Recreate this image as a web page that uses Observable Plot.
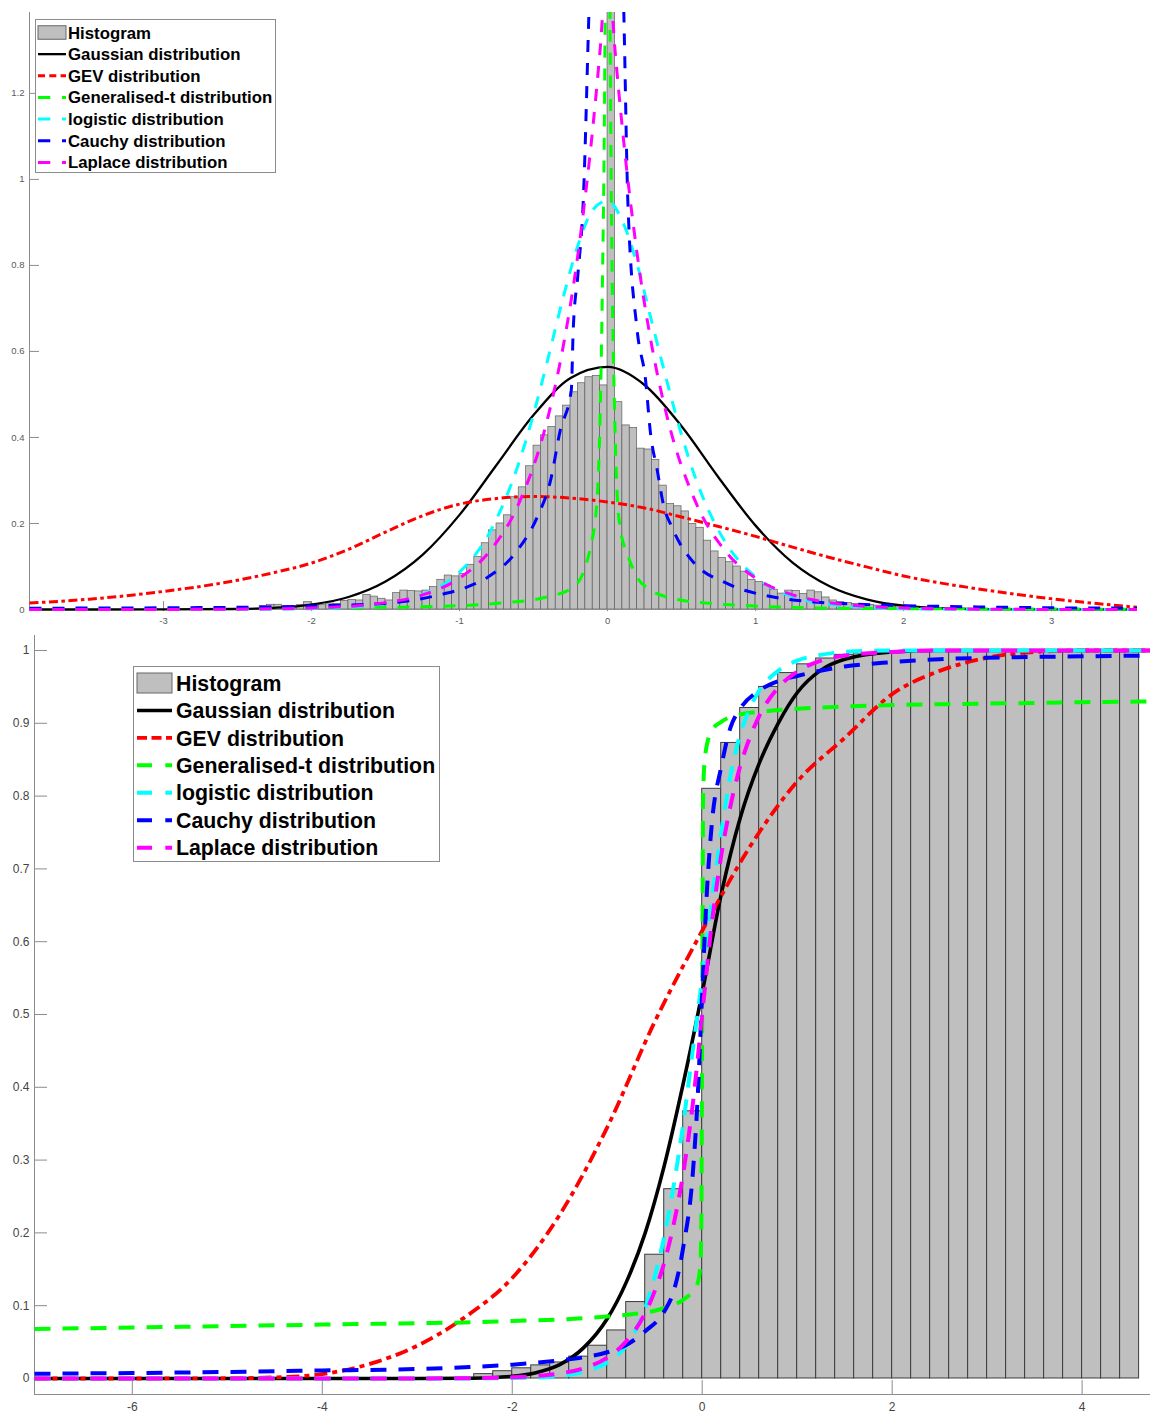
<!DOCTYPE html>
<html>
<head>
<meta charset="utf-8">
<script src="https://cdn.jsdelivr.net/npm/d3@7"></script>
<script src="https://cdn.jsdelivr.net/npm/@observablehq/plot@0.6"></script>
<style>
  html, body { margin: 0; padding: 0; background: #ffffff; }
  #wrap { position: relative; width: 1150px; height: 1418px; overflow: hidden; background: #ffffff; }
  #wrap svg { position: absolute; }
</style>
</head>
<body>
<div id="wrap"></div>
<script>
// ---------- legend ----------
const legendLabels = ["Histogram", "Gaussian distribution", "GEV distribution",
  "Generalised-t distribution", "logistic distribution", "Cauchy distribution", "Laplace distribution"];
const seriesKeys = ["gauss", "gev", "gent", "logistic", "cauchy", "laplace"];

// ---------- top panel: probability density ----------
const topXDomain = [-3.905, 3.58];
const topYDomain = [-0.005, 1.388];
const topXTicks = [-3, -2, -1, 0, 1, 2, 3];
const topYTicks = [0, 0.2, 0.4, 0.6, 0.8, 1, 1.2];

// density histogram, bins of 0.05 starting at -2.35
const pdfFirstEdge = -2.35;
const pdfBinWidth = 0.05;
const pdfHeights = [
  0.008, 0.011, 0.011, 0.008, 0.006, 0.010, 0.017, 0.012, 0.010, 0.014,
  0.013, 0.020, 0.022, 0.021, 0.034, 0.030, 0.025, 0.021, 0.038, 0.044,
  0.043, 0.042, 0.044, 0.052, 0.069, 0.079, 0.077, 0.083, 0.104, 0.122,
  0.154, 0.184, 0.200, 0.219, 0.261, 0.284, 0.333, 0.381, 0.405, 0.424,
  0.449, 0.474, 0.505, 0.526, 0.540, 0.543, 0.521, 7.400, 0.482, 0.428,
  0.422, 0.374, 0.372, 0.348, 0.288, 0.245, 0.240, 0.228, 0.199, 0.190,
  0.160, 0.135, 0.120, 0.110, 0.100, 0.088, 0.069, 0.064, 0.056, 0.046,
  0.037, 0.044, 0.043, 0.036, 0.044, 0.040, 0.028, 0.021, 0.017, 0.015,
  0.013, 0.012, 0.011, 0.009, 0.008, 0.006, 0.005
];

const gaussPdfX = [-3.905, -3.5, -3, -2.5, -2.25, -2, -1.75, -1.5, -1.25, -1, -0.75, -0.5, -0.25, 0, 0.25, 0.5, 0.75, 1, 1.25, 1.5, 1.75, 2, 2.5, 3, 3.58];
const gaussPdfY = [0, 0, 0.0001, 0.0012, 0.004, 0.0115, 0.029, 0.065, 0.127, 0.220, 0.336, 0.452, 0.538, 0.564, 0.522, 0.426, 0.307, 0.195, 0.109, 0.054, 0.0235, 0.009, 0.0009, 0.0001, 0];

const gevPdfX = gaussPdfX;
const gevPdfY = [0.015, 0.024, 0.042, 0.068, 0.086, 0.108, 0.140, 0.180, 0.218, 0.245, 0.258, 0.263, 0.259, 0.250, 0.236, 0.215, 0.193, 0.170, 0.145, 0.121, 0.099, 0.078, 0.048, 0.025, 0.005];

const gentPdfX = [-3.905, -3, -2, -1.5, -1.17, -0.72, -0.41, -0.23, -0.115, -0.07, -0.047, -0.035, -0.02, -0.01, 0, 0.01, 0.02, 0.032, 0.045, 0.066, 0.088, 0.133, 0.2, 0.29, 0.4, 0.51, 0.7, 1, 1.5, 2, 3, 3.58];
const gentPdfY = [0.0008, 0.0012, 0.003, 0.005, 0.007, 0.015, 0.029, 0.052, 0.145, 0.26, 0.5, 0.75, 1.2, 1.8, 3.0, 1.8, 1.2, 0.75, 0.5, 0.26, 0.184, 0.13, 0.075, 0.045, 0.029, 0.021, 0.014, 0.008, 0.003, 0.002, 0.001, 0.0008];

const logisticPdfX = [-3.905, -3.5, -3, -2.5, -2, -1.75, -1.5, -1.25, -1, -0.8, -0.6, -0.5, -0.4, -0.3, -0.2, -0.1, 0, 0.1, 0.2, 0.3, 0.4, 0.5, 0.6, 0.8, 1, 1.25, 1.5, 1.75, 2, 2.5, 3, 3.58];
const logisticPdfY = [0, 0, 0.0001, 0.0003, 0.002, 0.005, 0.014, 0.035, 0.087, 0.177, 0.340, 0.454, 0.587, 0.725, 0.847, 0.929, 0.950, 0.903, 0.802, 0.667, 0.532, 0.406, 0.300, 0.154, 0.076, 0.030, 0.012, 0.0045, 0.0017, 0.0002, 0, 0];

const cauchyPdfX = [-3.905, -3, -2.3, -1.8, -1.51, -1.33, -1.11, -0.95, -0.81, -0.61, -0.475, -0.385, -0.32, -0.245, -0.232, -0.2, -0.164, -0.126, -0.08, -0.01, 0.06, 0.11, 0.137, 0.2, 0.257, 0.29, 0.336, 0.38, 0.43, 0.49, 0.58, 0.81, 1.12, 1.42, 1.64, 2, 2.5, 3, 3.58];
const cauchyPdfY = [0.003, 0.004, 0.006, 0.010, 0.014, 0.021, 0.036, 0.052, 0.075, 0.137, 0.215, 0.30, 0.416, 0.51, 0.65, 0.78, 0.95, 1.385, 1.9, 2.6, 1.9, 1.385, 0.95, 0.649, 0.533, 0.41, 0.323, 0.24, 0.195, 0.153, 0.11, 0.06, 0.029, 0.017, 0.013, 0.009, 0.006, 0.004, 0.003];

const laplacePdfX = [-3.905, -3, -2.5, -2, -1.5, -1.25, -1, -0.8, -0.6, -0.4, -0.3, -0.2, -0.1, -0.05, 0, 0.05, 0.1, 0.2, 0.3, 0.4, 0.6, 0.8, 1, 1.25, 1.5, 2, 2.5, 3, 3.58];
const laplacePdfY = [0, 0.0002, 0.0008, 0.0035, 0.016, 0.034, 0.073, 0.134, 0.246, 0.451, 0.611, 0.826, 1.119, 1.302, 1.515, 1.302, 1.119, 0.826, 0.611, 0.451, 0.246, 0.134, 0.073, 0.034, 0.016, 0.0035, 0.0008, 0.0002, 0];

// ---------- bottom panel: cumulative distribution ----------
const bottomXDomain = [-7.03, 4.72];
const bottomYDomain = [-0.022, 1.0206];
const bottomXTicks = [-6, -4, -2, 0, 2, 4];
const bottomYTicks = [0, 0.1, 0.2, 0.3, 0.4, 0.5, 0.6, 0.7, 0.8, 0.9, 1];

// cumulative histogram, bins of 0.2 starting at -2.4
const cdfFirstEdge = -2.4;
const cdfBinWidth = 0.2;
const cdfHeights = [
  0.006, 0.010, 0.014, 0.018, 0.022, 0.030, 0.045, 0.066, 0.105, 0.170,
  0.260, 0.367, 0.810, 0.873, 0.921, 0.950, 0.969, 0.981, 0.989, 0.994,
  0.996, 0.998, 0.999, 0.9995, 1, 1, 1, 1, 1, 1, 1, 1, 1, 1, 1
];

const gaussCdfX = [-7.03, -3, -2.5, -2.25, -2, -1.75, -1.5, -1.25, -1, -0.8, -0.6, -0.4, -0.2, 0, 0.2, 0.4, 0.6, 0.8, 1, 1.25, 1.5, 2, 2.5, 4.72];
const gaussCdfY = [0, 0, 0.0003, 0.001, 0.003, 0.008, 0.019, 0.042, 0.082, 0.132, 0.200, 0.292, 0.405, 0.530, 0.665, 0.770, 0.845, 0.900, 0.942, 0.973, 0.988, 0.998, 1, 1];

const gevCdfX = [-7.03, -6, -5, -4.5, -4, -3.5, -3, -2.5, -2, -1.5, -1, -0.5, 0, 0.5, 1, 1.5, 2, 2.5, 3, 3.5, 4, 4.72];
const gevCdfY = [0, 0, 0.0003, 0.0015, 0.006, 0.02, 0.045, 0.084, 0.138, 0.225, 0.345, 0.49, 0.615, 0.73, 0.82, 0.88, 0.94, 0.972, 0.99, 0.998, 1, 1];

const gentCdfX = [-7.03, -6, -5, -4, -3, -2.5, -2, -1.5, -1, -0.7, -0.5, -0.35, -0.2, -0.1, -0.05, -0.02, -0.01, 0, 0.01, 0.03, 0.1, 0.2, 0.4, 0.7, 1, 1.5, 2, 3, 4, 4.72];
const gentCdfY = [0.068, 0.070, 0.072, 0.074, 0.076, 0.077, 0.079, 0.081, 0.085, 0.089, 0.093, 0.099, 0.108, 0.12, 0.13, 0.155, 0.2, 0.5, 0.8, 0.855, 0.89, 0.902, 0.912, 0.917, 0.920, 0.923, 0.925, 0.927, 0.929, 0.930];

const logisticCdfX = [-7.03, -3, -2.5, -2, -1.75, -1.5, -1.25, -1, -0.8, -0.6, -0.5, -0.4, -0.3, -0.2, -0.1, 0, 0.1, 0.2, 0.3, 0.4, 0.5, 0.6, 0.8, 1, 1.25, 1.5, 2, 4.72];
const logisticCdfY = [0, 0, 0.0001, 0.0005, 0.0013, 0.0035, 0.009, 0.022, 0.045, 0.097, 0.14, 0.195, 0.265, 0.35, 0.45, 0.55, 0.655, 0.75, 0.83, 0.885, 0.92, 0.945, 0.972, 0.986, 0.994, 0.998, 1, 1];

const cauchyCdfX = [-7.03, -6, -5, -4, -3, -2.5, -2, -1.5, -1.25, -1, -0.8, -0.6, -0.4, -0.3, -0.2, -0.1, -0.05, 0, 0.05, 0.1, 0.2, 0.3, 0.4, 0.6, 0.8, 1, 1.5, 2, 2.5, 3, 4, 4.72];
const cauchyCdfY = [0.0065, 0.0075, 0.009, 0.011, 0.013, 0.0155, 0.019, 0.025, 0.029, 0.036, 0.046, 0.065, 0.092, 0.12, 0.18, 0.28, 0.38, 0.53, 0.67, 0.76, 0.84, 0.895, 0.92, 0.945, 0.958, 0.965, 0.978, 0.984, 0.988, 0.990, 0.992, 0.993];

const laplaceCdfX = [-7.03, -3, -2.5, -2, -1.75, -1.5, -1.25, -1, -0.8, -0.6, -0.5, -0.4, -0.3, -0.2, -0.1, 0, 0.1, 0.2, 0.3, 0.4, 0.5, 0.6, 0.8, 1, 1.25, 1.5, 2, 2.5, 4.72];
const laplaceCdfY = [0, 0.0001, 0.0004, 0.0016, 0.0034, 0.0069, 0.014, 0.0287, 0.051, 0.090, 0.12, 0.159, 0.212, 0.282, 0.376, 0.5, 0.624, 0.718, 0.788, 0.841, 0.88, 0.91, 0.949, 0.971, 0.986, 0.993, 0.998, 1, 1];

// ---------- styling ----------
const colors = { gauss: "#000000", gev: "#ff0000", gent: "#00ff00", logistic: "#00ffff", cauchy: "#0000ff", laplace: "#ff00ff" };
const axisGrey = "#8c8c8c";
const barFill = "#bfbfbf";
const font = "'Liberation Sans', Arial, Helvetica, sans-serif";

const topStyle = {
  gauss: { width: 2.3, dash: null },
  gev: { width: 3, dash: "9,3.5,3.5,3.5" },
  gent: { width: 3, dash: "12,11" },
  logistic: { width: 3, dash: "12,11" },
  cauchy: { width: 3, dash: "12,11" },
  laplace: { width: 3, dash: "12,11" }
};
const bottomStyle = {
  gauss: { width: 3.6, dash: null },
  gev: { width: 3.8, dash: "13,5,5,5" },
  gent: { width: 4, dash: "16,12" },
  logistic: { width: 4, dash: "16,12" },
  cauchy: { width: 4, dash: "16,12" },
  laplace: { width: 4, dash: "16,12" }
};

const zip = (xs, ys) => xs.map((x, i) => ({ x, y: ys[i] }));
const bins = (first, w, hs) => hs.map((h, i) => ({ x1: first + i * w, x2: first + (i + 1) * w, h }));

const topSeries = {
  gauss: zip(gaussPdfX, gaussPdfY),
  gev: zip(gevPdfX, gevPdfY),
  gent: zip(gentPdfX, gentPdfY),
  logistic: zip(logisticPdfX, logisticPdfY),
  cauchy: zip(cauchyPdfX, cauchyPdfY),
  laplace: zip(laplacePdfX, laplacePdfY)
};
const bottomSeries = {
  gauss: zip(gaussCdfX, gaussCdfY),
  gev: zip(gevCdfX, gevCdfY),
  gent: zip(gentCdfX, gentCdfY),
  logistic: zip(logisticCdfX, logisticCdfY),
  cauchy: zip(cauchyCdfX, cauchyCdfY),
  laplace: zip(laplaceCdfX, laplaceCdfY)
};

function curveMarks(series, style) {
  return seriesKeys.map(k => Plot.line(series[k], {
    x: "x", y: "y", curve: "monotone-x", clip: true,
    stroke: colors[k], strokeWidth: style[k].width,
    strokeDasharray: style[k].dash || undefined,
    strokeLinecap: "butt", strokeLinejoin: "round"
  }));
}

const wrap = document.getElementById("wrap");

// ----- top panel -----
const topW = 1150, topH = 630;
const topM = { left: 29, right: 13, top: 12, bottom: 18.85 };
const topInnerW = topW - topM.left - topM.right;
const topInnerH = topH - topM.top - topM.bottom;

const topPlot = Plot.plot({
  width: topW, height: topH,
  marginLeft: topM.left, marginRight: topM.right, marginTop: topM.top, marginBottom: topM.bottom,
  style: { fontFamily: font, background: "transparent", overflow: "visible" },
  x: { domain: topXDomain, label: null },
  y: { domain: topYDomain, label: null },
  marks: [
    Plot.tickX(topXTicks, { x: d => d, stroke: axisGrey, insetTop: topInnerH - 10 }),
    Plot.tickY(topYTicks, { y: d => d, stroke: axisGrey, insetRight: topInnerW - 10 }),
    Plot.ruleX([topXDomain[0]], { stroke: axisGrey }),
    Plot.rect(bins(pdfFirstEdge, pdfBinWidth, pdfHeights), {
      x1: "x1", x2: "x2", y1: 0, y2: "h", fill: barFill, stroke: "#5e5e5e", strokeWidth: 0.7, clip: true
    }),
    Plot.ruleY([0], { stroke: axisGrey }),
    ...curveMarks(topSeries, topStyle),
    Plot.axisX(topXTicks, { tickSize: 0, tickPadding: 6, fontSize: 9.5, color: "#5a5a5a", tickFormat: d => String(d), label: null }),
    Plot.axisY(topYTicks, { tickSize: 0, tickPadding: 5, fontSize: 9.5, color: "#5a5a5a", tickFormat: d => String(d), label: null })
  ]
});
topPlot.style.left = "0px";
topPlot.style.top = "0px";
wrap.appendChild(topPlot);

// ----- bottom panel -----
const botTop = 630;
const botW = 1150, botH = 788;
const botM = { left: 34, right: 0, top: 5, bottom: 24 };
const botInnerW = botW - botM.left - botM.right;
const botInnerH = botH - botM.top - botM.bottom;

const bottomPlot = Plot.plot({
  width: botW, height: botH,
  marginLeft: botM.left, marginRight: botM.right, marginTop: botM.top, marginBottom: botM.bottom,
  style: { fontFamily: font, background: "transparent", overflow: "visible" },
  x: { domain: bottomXDomain, label: null },
  y: { domain: bottomYDomain, label: null },
  marks: [
    Plot.tickX(bottomXTicks, { x: d => d, stroke: axisGrey, insetTop: botInnerH - 14 }),
    Plot.tickY(bottomYTicks, { y: d => d, stroke: axisGrey, insetRight: botInnerW - 13 }),
    Plot.ruleX([bottomXDomain[0]], { stroke: axisGrey }),
    Plot.ruleY([bottomYDomain[0]], { stroke: axisGrey }),
    Plot.rect(bins(cdfFirstEdge, cdfBinWidth, cdfHeights), {
      x1: "x1", x2: "x2", y1: 0, y2: "h", fill: barFill, stroke: "#3c3c3c", strokeWidth: 1, clip: true
    }),
    ...curveMarks(bottomSeries, bottomStyle),
    Plot.axisX(bottomXTicks, { tickSize: 0, tickPadding: 8, fontSize: 12, color: "#444444", tickFormat: d => String(d), label: null }),
    Plot.axisY(bottomYTicks, { tickSize: 0, tickPadding: 5, fontSize: 12, color: "#444444", tickFormat: d => String(d), label: null })
  ]
});
bottomPlot.style.left = "0px";
bottomPlot.style.top = botTop + "px";
wrap.appendChild(bottomPlot);

// ----- legends -----
function drawLegend(cfg, style, swatchDash) {
  const svg = d3.select(wrap).append("svg")
    .attr("width", cfg.width).attr("height", cfg.height)
    .style("left", cfg.left + "px").style("top", cfg.top + "px");
  svg.append("rect")
    .attr("x", 0.5).attr("y", 0.5)
    .attr("width", cfg.width - 1).attr("height", cfg.height - 1)
    .attr("fill", "#ffffff").attr("stroke", "#8c8c8c").attr("stroke-width", 1);
  legendLabels.forEach((label, i) => {
    const cy = cfg.firstRow + i * cfg.rowStep;
    if (i === 0) {
      svg.append("rect")
        .attr("x", cfg.sx1).attr("y", cy - cfg.boxH / 2)
        .attr("width", cfg.sx2 - cfg.sx1).attr("height", cfg.boxH)
        .attr("fill", barFill).attr("stroke", "#666666").attr("stroke-width", 1);
    } else {
      const k = seriesKeys[i - 1];
      svg.append("line")
        .attr("x1", cfg.sx1).attr("x2", cfg.sx2).attr("y1", cy).attr("y2", cy)
        .attr("stroke", colors[k]).attr("stroke-width", style[k].width)
        .attr("stroke-dasharray", swatchDash[k]);
    }
    svg.append("text")
      .attr("x", cfg.textX).attr("y", cy).attr("dy", "0.36em")
      .attr("font-family", font).attr("font-weight", "bold")
      .attr("font-size", cfg.fontSize).attr("fill", "#000000")
      .text(label);
  });
}

drawLegend(
  { left: 35, top: 19, width: 241, height: 154, firstRow: 13.5, rowStep: 21.65, sx1: 3, sx2: 31, boxH: 13.5, textX: 33, fontSize: 16.8 },
  topStyle,
  { gauss: null, gev: "7,4.3", gent: "12.3,11.7", logistic: "12.3,11.7", cauchy: "12.3,11.7", laplace: "12.3,11.7" }
);
drawLegend(
  { left: 133, top: 666, width: 307, height: 196, firstRow: 17, rowStep: 27.45, sx1: 4, sx2: 39, boxH: 20, textX: 43, fontSize: 21.3 },
  bottomStyle,
  { gauss: null, gev: "10,4.5", gent: "15,13.3", logistic: "15,13.3", cauchy: "15,13.3", laplace: "15,13.3" }
);
</script>
</body>
</html>
